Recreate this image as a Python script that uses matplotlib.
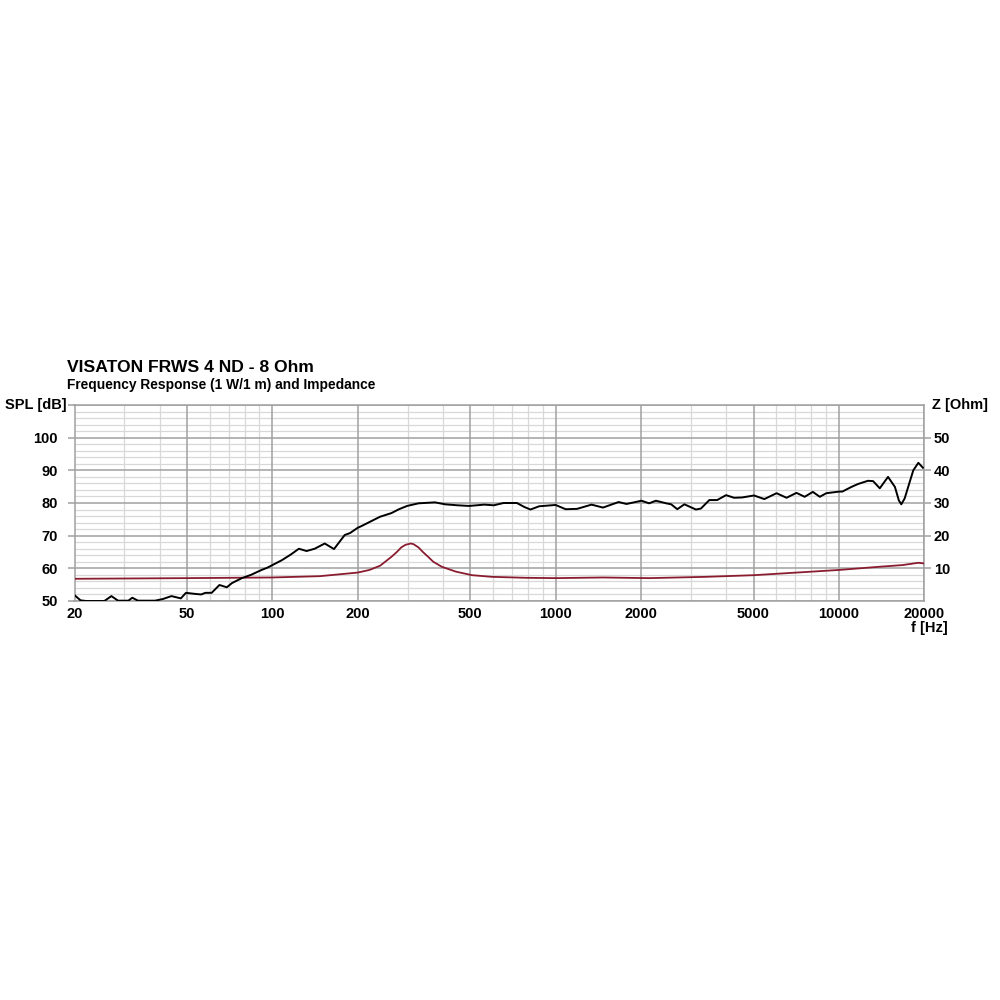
import matplotlib
matplotlib.use("Agg")
import matplotlib.pyplot as plt
from matplotlib.ticker import FixedLocator, NullFormatter

plt.rcParams['font.family'] = ['Liberation Sans', 'DejaVu Sans']

title = "VISATON FRWS 4 ND - 8 Ohm"
subtitle = "Frequency Response (1 W/1 m) and Impedance"

spl_freq = [20, 21, 22, 25.5, 27, 28.5, 31, 32, 33.5, 38.5, 41, 44, 47.5, 49.5, 53, 56, 58, 61,
            65, 69, 72, 78, 84, 91.5, 96, 100, 108, 116, 124, 132, 141, 153, 165, 180, 188,
            200, 207, 224, 240, 263, 280, 299, 328, 375, 407, 450, 495, 560, 605, 655, 730,
            775, 815, 875, 1000, 1085, 1190, 1340, 1470, 1670, 1780, 2010, 2140, 2260, 2460,
            2560, 2690, 2850, 3130, 3260, 3490, 3720, 4000, 4270, 4560, 5020, 5460, 6030,
            6540, 7090, 7580, 8100, 8570, 9040, 10050, 10300, 11070, 11680, 12680, 13220,
            13960, 14930, 15790, 16300, 16630, 17090, 18330, 19100, 19820]
spl_db = [51.8, 50.2, 50.0, 50.0, 51.5, 50.1, 50.1, 51.0, 50.1, 50.1, 50.6, 51.5, 50.8, 52.5,
          52.2, 52.0, 52.5, 52.5, 54.9, 54.2, 55.5, 57.0, 58.0, 59.5, 60.2, 61.0, 62.5, 64.2,
          66.0, 65.3, 66.0, 67.6, 65.9, 70.2, 70.8, 72.4, 73.0, 74.5, 75.8, 76.9, 78.1, 79.1,
          79.9, 80.2, 79.6, 79.3, 79.1, 79.5, 79.3, 80.0, 80.0, 78.8, 78.0, 79.0, 79.4, 78.1,
          78.2, 79.5, 78.6, 80.3, 79.7, 80.7, 79.9, 80.7, 79.9, 79.6, 78.1, 79.6, 78.0, 78.3,
          80.9, 80.9, 82.4, 81.6, 81.7, 82.3, 81.2, 83.0, 81.6, 83.1, 81.9, 83.4, 81.9, 83.0,
          83.5, 83.5, 84.9, 85.8, 86.8, 86.7, 84.5, 88.0, 84.9, 80.8, 79.6, 81.4, 90.0, 92.3, 90.8]

imp_freq = [20, 50, 100, 147, 200, 220, 240, 250, 263, 275, 285, 295, 308, 315, 328, 340, 355,
            370, 396, 444, 507, 595, 785, 1000, 1470, 2140, 3400, 5000, 7090, 10000, 14000,
            16800, 19100, 20000]
imp_ohm = [6.8, 7.0, 7.2, 7.6, 8.7, 9.5, 10.8, 12.0, 13.5, 15.0, 16.4, 17.2, 17.6, 17.4, 16.4,
           15.0, 13.5, 12.0, 10.5, 9.0, 7.9, 7.4, 7.1, 7.0, 7.2, 7.0, 7.4, 7.9, 8.7, 9.5, 10.5,
           11.0, 11.7, 11.5]

x_major = [20, 50, 100, 200, 500, 1000, 2000, 5000, 10000, 20000]
x_labels = ["20", "50", "100", "200", "500", "1000", "2000", "5000", "10000", "20000"]
spl_ticks = [50, 60, 70, 80, 90, 100]
z_ticks = [10, 20, 30, 40, 50]

fig = plt.figure(figsize=(10, 10), dpi=100)
ax = fig.add_axes([0.0745, 0.399, 0.8495, 0.196])
ax.set_xscale('log')
ax.set_xlim(20, 20000)
ax.set_ylim(50, 110)

minor_x = []
for dec in [10, 100, 1000, 10000]:
    for m in range(1, 10):
        v = m * dec
        if 20 < v < 20000 and v not in x_major:
            minor_x.append(v)

major_c = '#a0a0a0'
minor_c = '#d8d8d8'
for v in minor_x:
    ax.axvline(v, color=minor_c, lw=0.9, zorder=0)
for v in range(52, 110, 2):
    if v % 10:
        ax.axhline(v, color=minor_c, lw=0.9, zorder=0)
for v in x_major:
    ax.axvline(v, color=major_c, lw=1.1, zorder=1)
for v in range(50, 111, 10):
    ax.axhline(v, color=major_c, lw=1.1, zorder=1)

for s in ax.spines.values():
    s.set_color(major_c)
    s.set_linewidth(1.1)

ax.plot(imp_freq, [z + 50 for z in imp_ohm], color='#8a1c30', lw=1.3, zorder=3)
ax.plot(spl_freq, spl_db, color='black', lw=1.4, zorder=4)

ax.xaxis.set_major_locator(FixedLocator(x_major))
ax.xaxis.set_minor_locator(FixedLocator([]))
ax.set_xticklabels(x_labels)
ax.xaxis.set_minor_formatter(NullFormatter())
ax.tick_params(axis='x', length=0, pad=4, labelsize=10.5)
ax.set_yticks(spl_ticks + [110])
ax.set_yticklabels([str(v) for v in spl_ticks] + [""])
ax.tick_params(axis='y', length=5, color=major_c, width=1.1, pad=7, labelsize=10.5,
               right=True, labelright=False)
for lab in ax.get_xticklabels() + ax.get_yticklabels():
    lab.set_fontweight('bold')

ax2 = ax.twinx()
ax2.set_ylim(0, 60)
ax2.set_yticks(z_ticks)
ax2.set_yticklabels([str(v) for v in z_ticks])
ax2.tick_params(axis='y', length=5, color=major_c, width=1.1, pad=2, labelsize=10.5)
for lab in ax2.get_yticklabels():
    lab.set_fontweight('bold')
for s in ax2.spines.values():
    s.set_visible(False)

fig.text(0.067, 0.633, title, fontsize=12.6, fontweight='bold', va='center', ha='left')
fig.text(0.067, 0.615, subtitle, fontsize=9.9, fontweight='bold', va='center', ha='left')
ax.text(-0.0095, 1.0, "SPL [dB]", transform=ax.transAxes, ha='right', va='center',
        fontsize=10.5, fontweight='bold')
ax.text(1.0095, 1.0, "Z [Ohm]", transform=ax.transAxes, ha='left', va='center',
        fontsize=10.5, fontweight='bold')
fig.text(0.948, 0.372, "f [Hz]", ha='right', va='center', fontsize=10.5, fontweight='bold')

fig.savefig('out.png', dpi=100, facecolor='white')
